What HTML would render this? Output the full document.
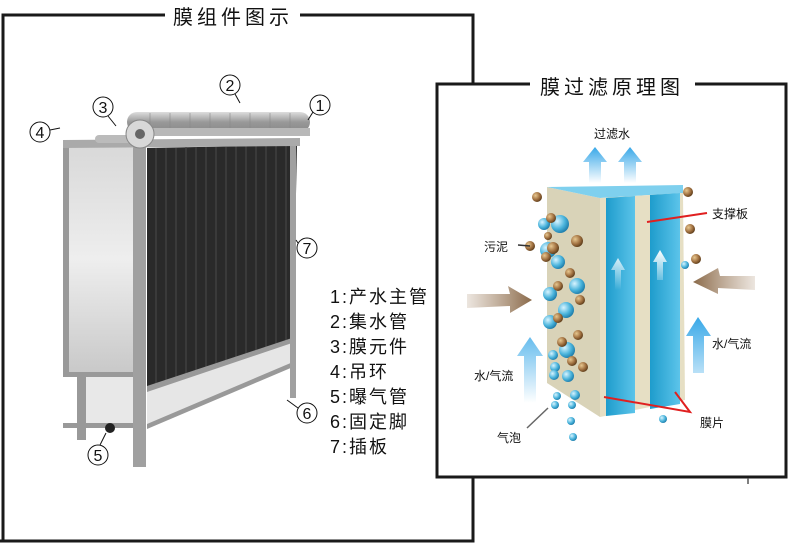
<!DOCTYPE html>
<html><head><meta charset="utf-8"><style>
body{margin:0;width:800px;height:543px;background:#fff;overflow:hidden;font-family:"Liberation Sans","Noto Sans CJK SC",sans-serif;}
</style></head><body>
<svg width="800" height="543" viewBox="0 0 800 543" xmlns="http://www.w3.org/2000/svg" font-family="Liberation Sans, Noto Sans CJK SC, sans-serif">
<defs>
<linearGradient id="gp" x1="0" y1="0" x2="0" y2="1"><stop offset="0" stop-color="#d8d8d8"/><stop offset="0.5" stop-color="#eeeeee"/><stop offset="1" stop-color="#c8c8c8"/></linearGradient>
<linearGradient id="pipe" x1="0" y1="0" x2="0" y2="1"><stop offset="0" stop-color="#ddd"/><stop offset="0.5" stop-color="#999"/><stop offset="1" stop-color="#888"/></linearGradient>
<radialGradient id="bb" cx="0.35" cy="0.35" r="0.7"><stop offset="0" stop-color="#e8c890"/><stop offset="0.6" stop-color="#a07040"/><stop offset="1" stop-color="#5a3a18"/></radialGradient>
<radialGradient id="bl" cx="0.35" cy="0.35" r="0.7"><stop offset="0" stop-color="#d8f4ff"/><stop offset="0.6" stop-color="#4ab4dc"/><stop offset="1" stop-color="#1c7aa8"/></radialGradient>
<linearGradient id="ua" x1="0" y1="1" x2="0" y2="0"><stop offset="0" stop-color="#38a8e8" stop-opacity="0"/><stop offset="1" stop-color="#38a8e8"/></linearGradient>
<linearGradient id="wa" x1="0" y1="1" x2="0" y2="0"><stop offset="0" stop-color="#fff" stop-opacity="0"/><stop offset="1" stop-color="#fff"/></linearGradient>
<linearGradient id="ba" x1="0" x2="1"><stop offset="0" stop-color="#a08060" stop-opacity="0.2"/><stop offset="1" stop-color="#8a6a4a"/></linearGradient>
<linearGradient id="ba2" x1="1" x2="0"><stop offset="0" stop-color="#a08060" stop-opacity="0.2"/><stop offset="1" stop-color="#8a6a4a"/></linearGradient>
<linearGradient id="blu" x1="0" x2="1"><stop offset="0" stop-color="#1e9ccc"/><stop offset="1" stop-color="#5cc4ea"/></linearGradient>
</defs>
<!-- left frame -->
<path d="M3 541 V15 H165 M300 15 H473 V541 H0" fill="none" stroke="#1a1a1a" stroke-width="3"/>
<text x="233" y="24" font-size="20" letter-spacing="4" text-anchor="middle" fill="#111">膜组件图示</text>
<!-- module -->
<rect x="63" y="143" width="77" height="232" fill="url(#gp)"/>
<rect x="77" y="377" width="60" height="46" fill="#e8e8e8"/>
<rect x="63" y="143" width="6" height="230" fill="#999"/>
<rect x="63" y="372" width="80" height="5" fill="#999"/>
<rect x="63" y="423" width="80" height="5" fill="#999"/>
<rect x="77" y="375" width="9" height="65" fill="#999"/>
<polygon points="147,148 297,145 293,340 147,388" fill="#2a2a2a"/>
<g stroke="#454545" stroke-width="1.2">
<line x1="156" y1="148" x2="156" y2="385"/><line x1="166" y1="148" x2="166" y2="382"/><line x1="176" y1="148" x2="176" y2="379"/><line x1="186" y1="147" x2="186" y2="375"/><line x1="196" y1="147" x2="196" y2="372"/><line x1="206" y1="147" x2="206" y2="369"/><line x1="216" y1="147" x2="216" y2="366"/><line x1="226" y1="147" x2="226" y2="362"/><line x1="236" y1="146" x2="236" y2="359"/><line x1="246" y1="146" x2="246" y2="356"/><line x1="256" y1="146" x2="256" y2="352"/><line x1="266" y1="146" x2="266" y2="349"/><line x1="276" y1="146" x2="276" y2="346"/><line x1="286" y1="145" x2="286" y2="343"/></g>
<polygon points="147,390 293,342 293,363 147,425" fill="#e6e6e6"/>
<polygon points="147,386 295,337 295,342 147,392" fill="#999"/>
<polygon points="147,424 293,362 293,367 147,429" fill="#999"/>
<rect x="133" y="143" width="13" height="324" fill="#a0a0a0"/>
<rect x="290" y="143" width="6" height="255" fill="#a0a0a0"/>
<polygon points="63,140 300,138 300,146 63,148" fill="#aaa"/>
<rect x="127" y="112" width="183" height="20" rx="10" fill="url(#pipe)"/>
<g stroke="#888" stroke-width="0.6"><line x1="150" y1="113" x2="150" y2="131"/><line x1="170" y1="113" x2="170" y2="131"/><line x1="190" y1="113" x2="190" y2="131"/><line x1="210" y1="113" x2="210" y2="131"/><line x1="230" y1="113" x2="230" y2="131"/><line x1="250" y1="113" x2="250" y2="131"/><line x1="270" y1="113" x2="270" y2="131"/><line x1="290" y1="113" x2="290" y2="131"/></g>
<rect x="140" y="128" width="170" height="8" fill="#b8b8b8"/>
<rect x="95" y="135" width="45" height="8" rx="4" fill="#bbb"/>
<circle cx="140" cy="134" r="14" fill="#d8d8d8" stroke="#888"/><circle cx="140" cy="134" r="5" fill="#666"/>
<circle cx="110" cy="428" r="5" fill="#222"/>
<g fill="none" stroke="#111" stroke-width="1">
<circle cx="40" cy="132" r="10"/><circle cx="103" cy="107" r="10"/><circle cx="230" cy="85" r="10"/><circle cx="320" cy="105" r="10"/><circle cx="307" cy="248" r="10"/><circle cx="307" cy="413" r="10"/><circle cx="98" cy="455" r="10"/>
<path d="M50 130 L60 128 M108 116 L116 126 M235 94 L240 103 M313 112 L308 120 M298 243 L296 240 M298 408 L287 400 M100 445 L106 433"/>
</g>
<g font-size="16" fill="#111" text-anchor="middle">
<text x="40" y="138">4</text><text x="103" y="113">3</text><text x="230" y="91">2</text><text x="320" y="111">1</text><text x="307" y="254">7</text><text x="307" y="419">6</text><text x="98" y="461">5</text></g>
<g font-size="18" fill="#111" letter-spacing="2">
<text x="330" y="303">1:产水主管</text><text x="330" y="328">2:集水管</text><text x="330" y="353">3:膜元件</text><text x="330" y="378">4:吊环</text><text x="330" y="403">5:曝气管</text><text x="330" y="428">6:固定脚</text><text x="330" y="453">7:插板</text></g>
<!-- right box -->
<path d="M530 84 H437 V477 H786 V84 H695" fill="#fff" stroke="#1a1a1a" stroke-width="3"/>
<line x1="748" y1="478" x2="748" y2="484" stroke="#555" stroke-width="1.5"/>
<text x="612" y="94" font-size="20" letter-spacing="4" text-anchor="middle" fill="#111">膜过滤原理图</text>
<!-- membrane -->
<polygon points="547,187 600,198 600,417 547,383" fill="#d9d3b8"/>
<polygon points="547,187 683,185 683,193 600,198" fill="#7fd0ee"/>
<polygon points="600,198 683,193 685,400 600,417" fill="#e6dfc4"/>
<polygon points="606,198 635,196 635,413 606,416" fill="url(#blu)"/>
<polygon points="650,195 680,193 680,404 650,409" fill="url(#blu)"/>
<path d="M615 290 V270 H611 L618 258 L625 270 H621 V290Z M657 280 V262 H653 L660 250 L667 262 H663 V280Z" fill="url(#wa)"/>
<path d="M589 183 V162 H583 L595 147 L607 162 H601 V183Z M624 183 V162 H618 L630 147 L642 162 H636 V183Z" fill="url(#ua)"/>
<path d="M524 403 V356 H517 L530 337 L543 356 H536 V403Z M693 373 V336 H686 L698 317 L711 336 H704 V373Z" fill="url(#ua)"/>
<polygon points="467,294 510,294 508,286 532,300 510,313 510,306 467,308" fill="url(#ba)"/>
<polygon points="755,276 720,276 718,268 693,282 718,294 718,288 755,290" fill="url(#ba2)"/>
<g fill="url(#bl)"><circle cx="544" cy="224" r="6"/><circle cx="560" cy="224" r="9"/><circle cx="548" cy="250" r="8"/><circle cx="558" cy="262" r="7"/><circle cx="577" cy="286" r="8"/><circle cx="550" cy="294" r="7"/><circle cx="566" cy="310" r="8"/><circle cx="550" cy="322" r="7"/><circle cx="567" cy="350" r="8"/><circle cx="553" cy="355" r="5"/><circle cx="555" cy="367" r="5"/><circle cx="568" cy="376" r="6"/><circle cx="554" cy="375" r="5"/><circle cx="557" cy="396" r="4"/><circle cx="575" cy="395" r="5"/><circle cx="555" cy="405" r="4"/><circle cx="572" cy="405" r="4"/><circle cx="571" cy="421" r="4"/><circle cx="573" cy="437" r="4"/><circle cx="663" cy="419" r="4"/><circle cx="685" cy="265" r="4"/></g>
<g fill="url(#bb)"><circle cx="537" cy="197" r="5"/><circle cx="551" cy="218" r="5"/><circle cx="548" cy="236" r="4"/><circle cx="577" cy="241" r="6"/><circle cx="530" cy="246" r="5"/><circle cx="553" cy="248" r="6"/><circle cx="546" cy="257" r="5"/><circle cx="570" cy="273" r="5"/><circle cx="558" cy="286" r="5"/><circle cx="580" cy="300" r="5"/><circle cx="558" cy="318" r="5"/><circle cx="578" cy="335" r="5"/><circle cx="562" cy="342" r="5"/><circle cx="572" cy="361" r="5"/><circle cx="583" cy="367" r="5"/><circle cx="688" cy="192" r="5"/><circle cx="690" cy="229" r="5"/><circle cx="696" cy="259" r="5"/></g>
<line x1="647" y1="222" x2="707" y2="213" stroke="#e02020" stroke-width="2"/>
<path d="M604 397 L690 412 L675 392" fill="none" stroke="#e02020" stroke-width="2"/>
<line x1="518" y1="245" x2="530" y2="246" stroke="#333" stroke-width="1.5"/>
<line x1="527" y1="428" x2="548" y2="408" stroke="#666" stroke-width="1.5"/>
<g font-size="12" fill="#111">
<text x="594" y="138">过滤水</text><text x="712" y="218">支撑板</text><text x="484" y="251">污泥</text><text x="712" y="348">水/气流</text><text x="474" y="380">水/气流</text><text x="497" y="442">气泡</text><text x="700" y="427">膜片</text></g>
</svg>
</body></html>
